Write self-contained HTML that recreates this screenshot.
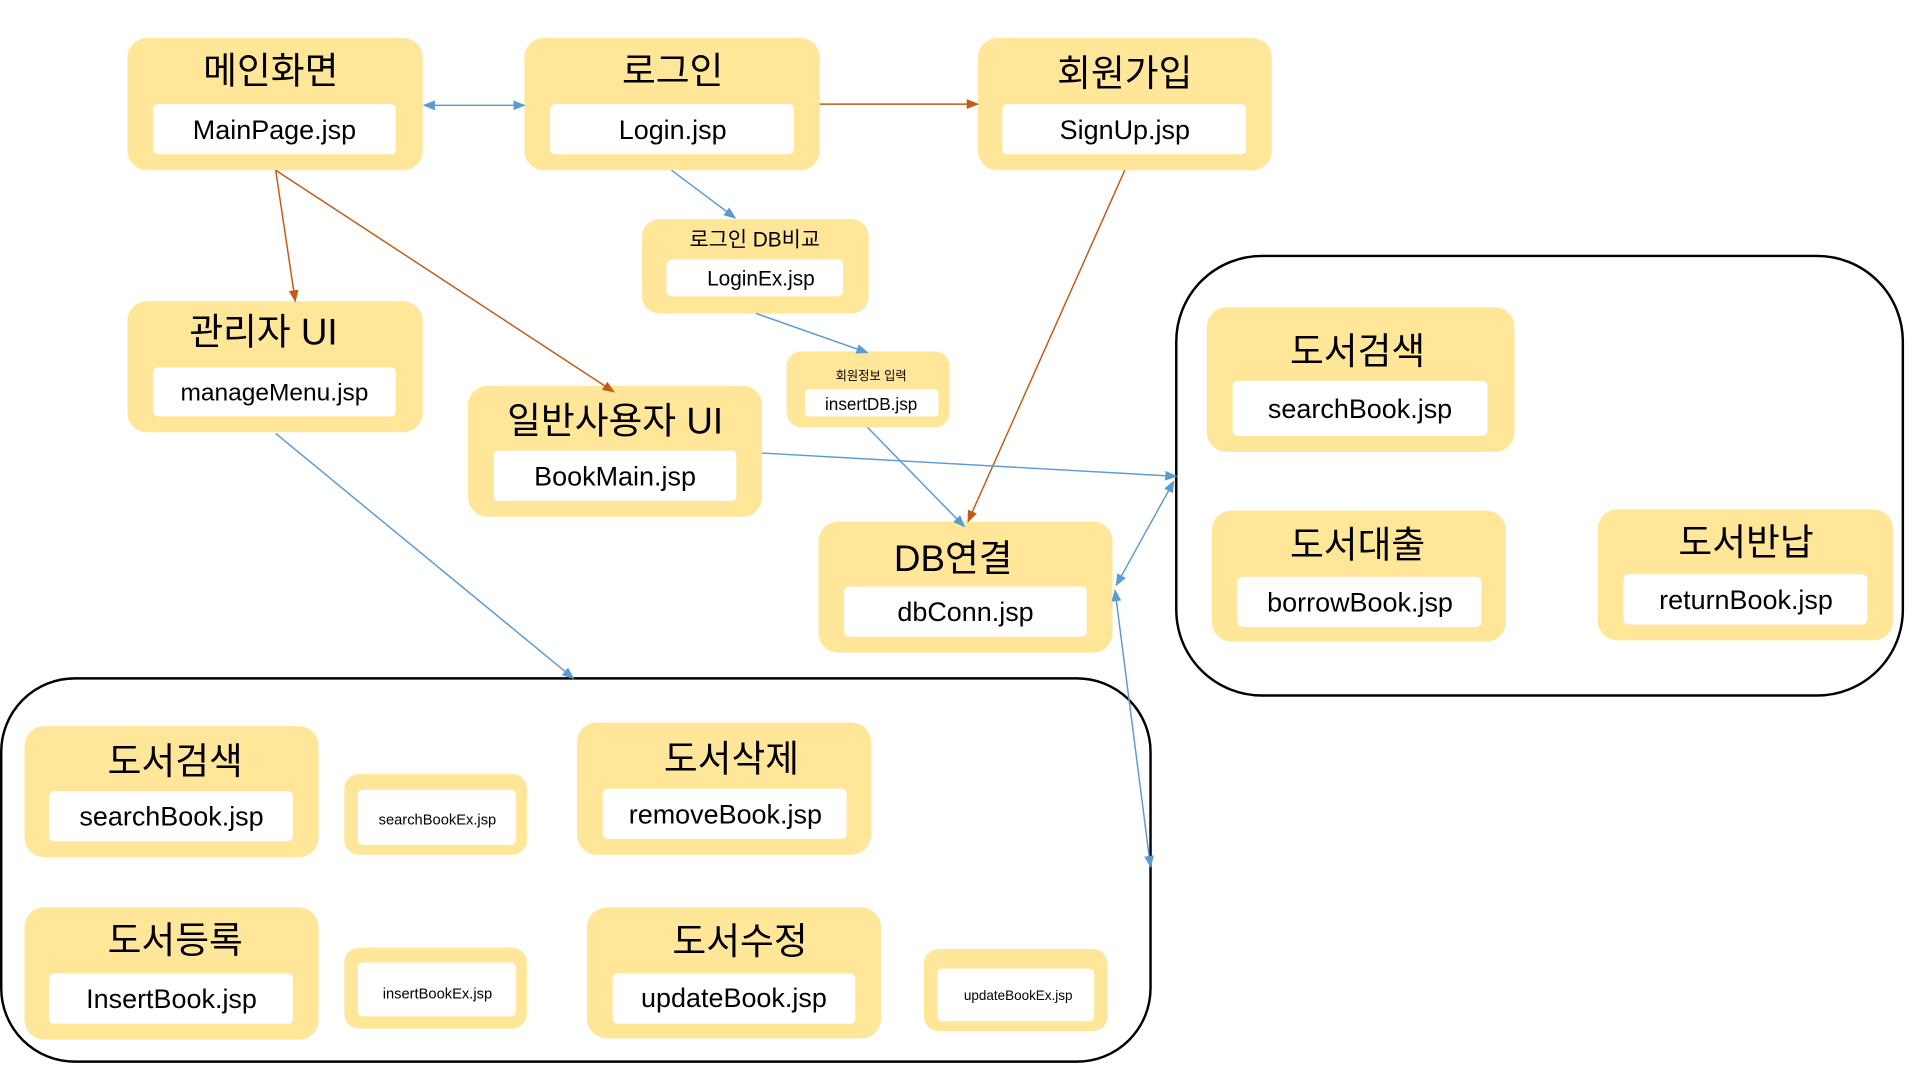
<!DOCTYPE html>
<html><head><meta charset="utf-8"><style>
html,body{margin:0;padding:0;background:#fff;}
svg{display:block;}
text{font-family:"Liberation Sans","Noto Sans CJK KR",sans-serif;font-weight:400;fill:#000;text-anchor:middle;dominant-baseline:central;}
.b{fill:#FFE699;}
.w{fill:#fff;}
.bl{stroke:#5B9BD5;stroke-width:1.2;fill:none;}
.or{stroke:#C55A11;stroke-width:1.2;fill:none;}
</style></head><body>
<svg width="1920" height="1080" viewBox="0 0 1567 882" preserveAspectRatio="none" xmlns="http://www.w3.org/2000/svg">
<defs>
<marker id="ab" markerWidth="10" markerHeight="10" refX="9" refY="5" orient="auto" markerUnits="userSpaceOnUse"><path d="M0,1 L10,5 L0,9z" fill="#5B9BD5"/></marker>
<marker id="abs" markerWidth="10" markerHeight="10" refX="1" refY="5" orient="auto" markerUnits="userSpaceOnUse"><path d="M10,1 L0,5 L10,9z" fill="#5B9BD5"/></marker>
<marker id="ao" markerWidth="10" markerHeight="10" refX="9" refY="5" orient="auto" markerUnits="userSpaceOnUse"><path d="M0,1 L10,5 L0,9z" fill="#C55A11"/></marker>
</defs>

<rect x="960" y="209" width="593" height="359" rx="70" fill="none" stroke="#000" stroke-width="2"/>
<rect x="1" y="554" width="938" height="313" rx="60" fill="none" stroke="#000" stroke-width="2"/>

<g>
<rect class="b" x="104" y="31" width="241" height="108" rx="16"/><rect class="w" x="125" y="85" width="198" height="41" rx="4"/>
<text x="221" y="58" font-size="30">메인화면</text><text x="224" y="106" font-size="22">MainPage.jsp</text>

<rect class="b" x="428" y="31" width="241" height="108" rx="16"/><rect class="w" x="449" y="85" width="199" height="41" rx="4"/>
<text x="549" y="58" font-size="30">로그인</text><text x="549" y="106" font-size="22">Login.jsp</text>

<rect class="b" x="798" y="31" width="240" height="108" rx="16"/><rect class="w" x="818" y="85" width="199" height="41" rx="4"/>
<text x="918" y="60" font-size="30">회원가입</text><text x="918" y="106" font-size="22">SignUp.jsp</text>

<rect class="b" x="524" y="179" width="185" height="77" rx="14"/><rect class="w" x="544" y="212" width="144" height="30" rx="4"/>
<text x="616" y="196" font-size="17">로그인 DB비교</text><text x="621" y="228" font-size="17">LoginEx.jsp</text>

<rect class="b" x="642" y="287" width="133" height="62" rx="12"/><rect class="w" x="657" y="318" width="109" height="22" rx="3"/>
<text x="711" y="307" font-size="10">회원정보 입력</text><text x="711" y="330" font-size="14">insertDB.jsp</text>

<rect class="b" x="104" y="246" width="241" height="107" rx="16"/><rect class="w" x="125" y="300" width="198" height="40" rx="4"/>
<text x="215" y="271" font-size="30">관리자 UI</text><text x="224" y="321" font-size="20">manageMenu.jsp</text>

<rect class="b" x="382" y="315" width="240" height="107" rx="16"/><rect class="w" x="403" y="368" width="198" height="41" rx="4"/>
<text x="502" y="344" font-size="30">일반사용자 UI</text><text x="502" y="389" font-size="22">BookMain.jsp</text>

<rect class="b" x="668" y="426" width="240" height="107" rx="16"/><rect class="w" x="689" y="479" width="198" height="41" rx="4"/>
<text x="778" y="456" font-size="30">DB연결</text><text x="788" y="500" font-size="22">dbConn.jsp</text>

<rect class="b" x="985" y="251" width="251" height="118" rx="16"/><rect class="w" x="1006" y="311" width="208" height="45" rx="4"/>
<text x="1108" y="287" font-size="30">도서검색</text><text x="1110" y="334" font-size="22">searchBook.jsp</text>

<rect class="b" x="989" y="417" width="240" height="107" rx="16"/><rect class="w" x="1010" y="471" width="199" height="41" rx="4"/>
<text x="1108" y="445" font-size="30">도서대출</text><text x="1110" y="492" font-size="22">borrowBook.jsp</text>

<rect class="b" x="1304" y="416" width="241" height="107" rx="16"/><rect class="w" x="1325" y="469" width="199" height="41" rx="4"/>
<text x="1425" y="443" font-size="30">도서반납</text><text x="1425" y="490" font-size="22">returnBook.jsp</text>

<rect class="b" x="20" y="593" width="240" height="107" rx="16"/><rect class="w" x="40" y="646" width="199" height="41" rx="4"/>
<text x="143" y="622" font-size="30">도서검색</text><text x="140" y="667" font-size="22">searchBook.jsp</text>

<rect class="b" x="281" y="632" width="149" height="66" rx="12"/><rect class="w" x="292" y="645" width="129" height="45" rx="4"/>
<text x="357" y="670" font-size="12">searchBookEx.jsp</text>

<rect class="b" x="471" y="590" width="240" height="108" rx="16"/><rect class="w" x="492" y="644" width="199" height="41" rx="4"/>
<text x="597" y="620" font-size="30">도서삭제</text><text x="592" y="665" font-size="22">removeBook.jsp</text>

<rect class="b" x="20" y="741" width="240" height="108" rx="16"/><rect class="w" x="40" y="795" width="199" height="41" rx="4"/>
<text x="143" y="768" font-size="30">도서등록</text><text x="140" y="816" font-size="22">InsertBook.jsp</text>

<rect class="b" x="281" y="774" width="149" height="66" rx="12"/><rect class="w" x="292" y="786" width="129" height="44" rx="4"/>
<text x="357" y="812" font-size="12">insertBookEx.jsp</text>

<rect class="b" x="479" y="741" width="240" height="107" rx="16"/><rect class="w" x="500" y="795" width="198" height="41" rx="4"/>
<text x="604" y="769" font-size="30">도서수정</text><text x="599" y="815" font-size="22">updateBook.jsp</text>

<rect class="b" x="754" y="775" width="150" height="67" rx="12"/><rect class="w" x="765" y="791" width="128" height="43" rx="4"/>
<text x="831" y="813" font-size="11">updateBookEx.jsp</text>
</g>

<line class="bl" x1="346" y1="86" x2="428" y2="86" marker-start="url(#abs)" marker-end="url(#ab)"/>
<line class="or" x1="669" y1="85" x2="798" y2="85" marker-end="url(#ao)"/>
<line class="or" x1="225" y1="139" x2="241" y2="246" marker-end="url(#ao)"/>
<line class="or" x1="225" y1="139" x2="501" y2="320" marker-end="url(#ao)"/>
<line class="bl" x1="548" y1="139" x2="600" y2="178" marker-end="url(#ab)"/>
<line class="bl" x1="617" y1="256" x2="708" y2="288" marker-end="url(#ab)"/>
<line class="bl" x1="708" y1="349" x2="787" y2="430" marker-end="url(#ab)"/>
<line class="or" x1="918" y1="139" x2="790" y2="426" marker-end="url(#ao)"/>
<line class="bl" x1="622" y1="370" x2="960" y2="389" marker-end="url(#ab)"/>
<line class="bl" x1="225" y1="354" x2="468" y2="554" marker-end="url(#ab)"/>
<line class="bl" x1="958" y1="393" x2="911" y2="478" marker-start="url(#abs)" marker-end="url(#ab)"/>
<line class="bl" x1="910" y1="482" x2="939" y2="708" marker-start="url(#abs)" marker-end="url(#ab)"/>
</svg>
</body></html>
